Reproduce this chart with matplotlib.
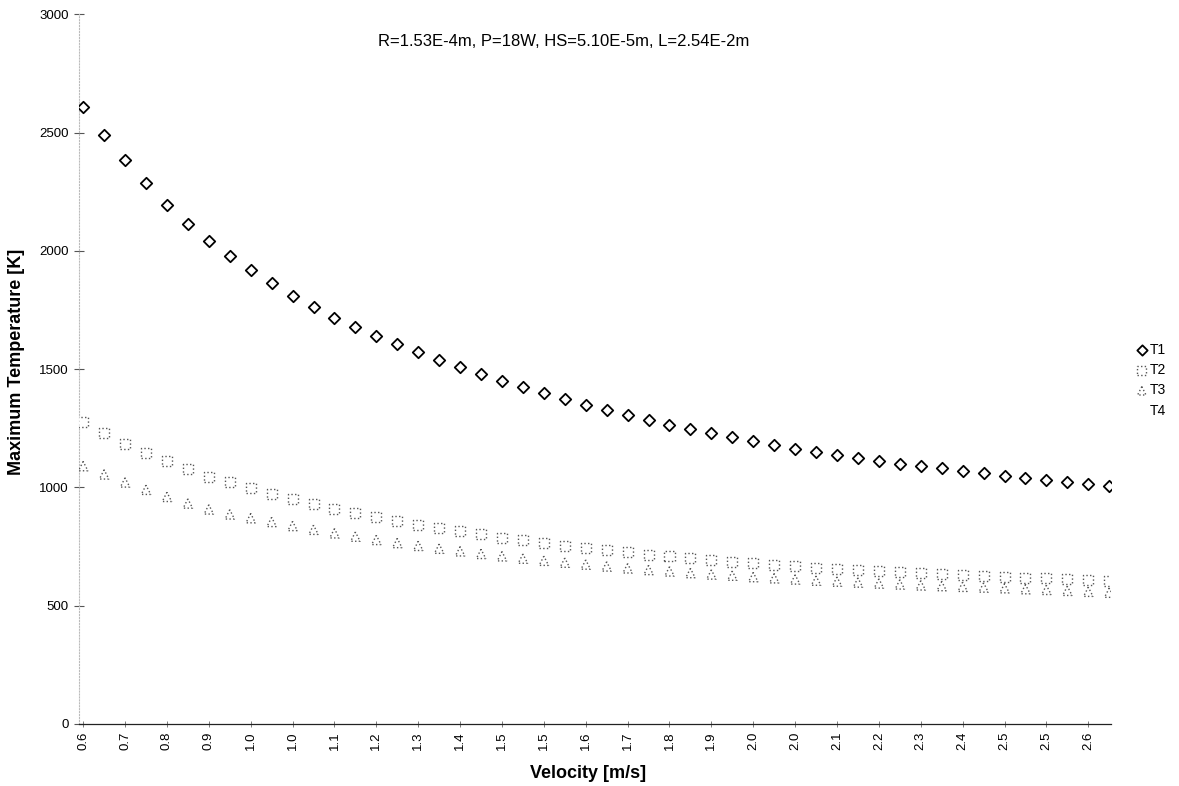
import matplotlib.pyplot as plt

plt.rcParams['font.family'] = ['Liberation Sans', 'DejaVu Sans']

# Datos: temperaturas máximas [K] por categoría de velocidad
T1 = [2607, 2490, 2385, 2286, 2195, 2112, 2040, 1977, 1918, 1862,
      1810, 1763, 1717, 1677, 1640, 1605, 1571, 1539, 1508, 1478,
      1450, 1423, 1397, 1373, 1349, 1327, 1305, 1285, 1265, 1246,
      1228, 1211, 1195, 1179, 1164, 1150, 1136, 1123, 1111, 1100,
      1090, 1080, 1070, 1060, 1050, 1041, 1032, 1023, 1014, 1005]
T2 = [1275, 1228, 1183, 1145, 1111, 1076, 1045, 1021, 997, 972,
      949, 928, 910, 893, 876, 859, 843, 828, 814, 801,
      788, 776, 765, 754, 744, 734, 725, 716, 708, 700,
      693, 686, 679, 673, 667, 661, 656, 651, 646, 641,
      637, 633, 629, 626, 622, 619, 616, 612, 608, 604]
T3 = [1090, 1055, 1021, 990, 960, 932, 907, 886, 870, 854,
      837, 821, 806, 792, 778, 765, 753, 741, 730, 719,
      709, 699, 690, 682, 674, 666, 658, 651, 645, 638,
      632, 627, 621, 616, 611, 606, 602, 598, 594, 590,
      586, 583, 580, 577, 574, 570, 567, 563, 559, 555]
xlabels = ['0.6', '0.7', '0.8', '0.9', '1.0', '1.0', '1.1', '1.2', '1.3',
           '1.4', '1.5', '1.5', '1.6', '1.7', '1.8', '1.9', '2.0', '2.0',
           '2.1', '2.2', '2.3', '2.4', '2.5', '2.5', '2.6']
yticks = [0, 500, 1000, 1500, 2000, 2500, 3000]

x = list(range(len(T1)))

fig = plt.figure(figsize=(11.79, 7.86), dpi=100)
ax = fig.add_axes([0.067, 0.0789, 0.8756, 0.903])

ax.scatter(x, T1, marker='D', s=34, facecolors='white', edgecolors='black',
           linewidths=1.3, label='T1', zorder=3)
ax.scatter(x, T2, marker='s', s=52, facecolors='white', edgecolors='#555555',
           linewidths=1.0, linestyles=':', label='T2', zorder=3)
ax.scatter(x, T3, marker='^', s=45, facecolors='white', edgecolors='#555555',
           linewidths=1.0, linestyles=':', label='T3', zorder=3)
ax.plot([], [], ls='none', label='T4')

ax.set_xlim(-0.2, 49.1)
ax.set_ylim(0, 3000)

ax.set_xticks(x[::2])
ax.set_xticklabels(xlabels, rotation=90, fontsize=9.5)
ax.set_yticks(yticks)
ax.set_yticklabels([str(v) for v in yticks], fontsize=9.5)
ax.tick_params(axis='x', direction='inout', length=5, width=0.6, colors='#666666',
               labelcolor='black', pad=3)
ax.tick_params(axis='y', direction='inout', length=7, width=0.8, colors='#555555',
               labelcolor='black', pad=4)

for s in ['top', 'right']:
    ax.spines[s].set_visible(False)
ax.spines['left'].set_color('#bbbbbb')
ax.spines['left'].set_linestyle(':')
ax.spines['left'].set_linewidth(0.8)
ax.spines['bottom'].set_color('#222222')
ax.spines['bottom'].set_linewidth(0.9)

fig.text(564 / 1179, 1 - 42 / 786, 'R=1.53E-4m, P=18W, HS=5.10E-5m, L=2.54E-2m',
         ha='center', va='center', fontsize=12)
fig.text(588 / 1179, 1 - 773 / 786, 'Velocity [m/s]', ha='center', va='center',
         fontsize=13, fontweight='bold')
fig.text(17 / 1179, 1 - 362 / 786, 'Maximum Temperature [K]', ha='center',
         va='center', rotation=90, fontsize=13, fontweight='bold')

leg = ax.legend(loc='upper left', bbox_to_anchor=(1130 / 1179, 1 - 336 / 786),
                bbox_transform=fig.transFigure, frameon=False, fontsize=10,
                handlelength=0.7, handletextpad=0.2, labelspacing=0.45,
                borderpad=0, scatterpoints=1, markerscale=0.9)

fig.savefig('out.png', dpi=100)
